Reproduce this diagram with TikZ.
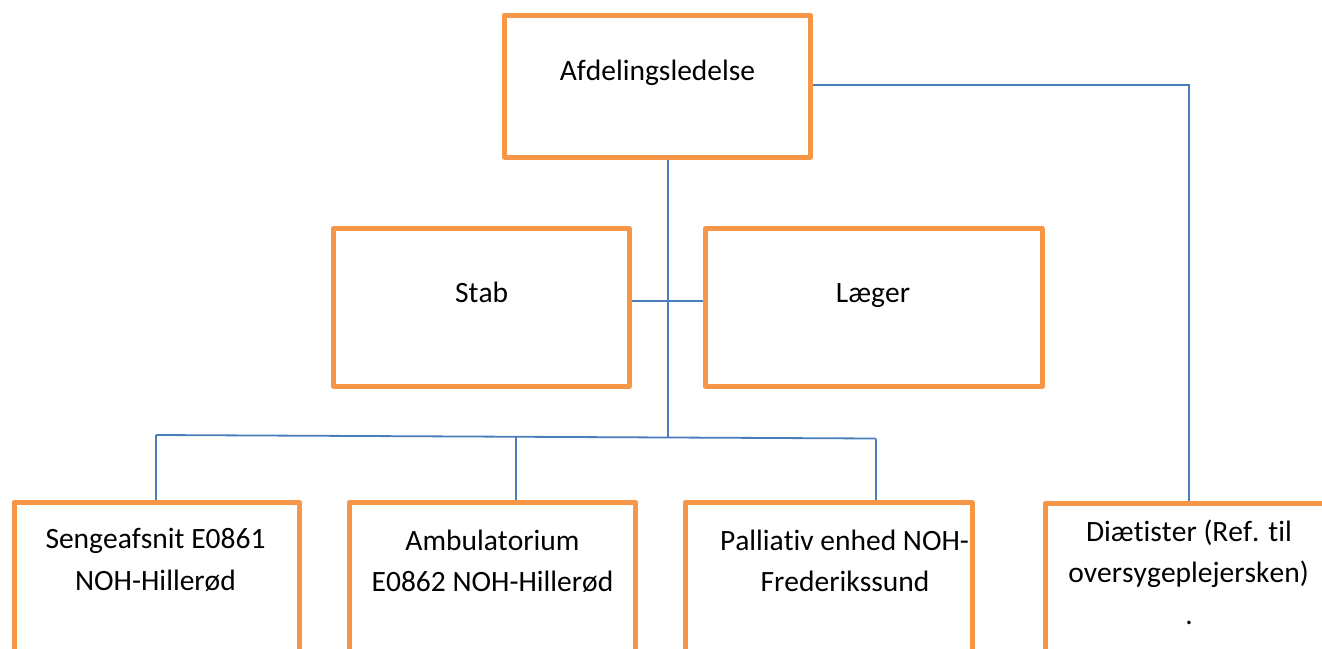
\documentclass[tikz,border=0pt]{standalone}
\usepackage{fontspec}
\setmainfont{Carlito}[Kerning=Off, RawFeature={-liga;-clig;-calt;-dlig;-rlig}]
\definecolor{boxorange}{HTML}{F79646}
\definecolor{lineblue}{HTML}{4A7EBB}
\begin{document}
\begin{tikzpicture}[x=1pt,y=-1pt,
  orgbox/.style={draw=boxorange, line width=5pt, line join=round, rectangle, inner sep=0pt, fill=white},
  conn/.style={draw=lineblue, line width=1.8pt},
  lbl/.style={anchor=base, inner sep=0pt, font=\fontsize{29.5}{41}\selectfont, text=black}]
\useasboundingbox (0,0) rectangle (1322,648);
\clip (0,0) rectangle (1322,648);
% boxes (centre-line dimensions)
\node[orgbox, minimum width=306pt, minimum height=142pt] (A) at (657.5,86) {};
\node[orgbox, minimum width=296pt, minimum height=157.5pt] (Stab) at (481.5,307.25) {};
\node[orgbox, minimum width=336.5pt, minimum height=157.5pt] (Laeger) at (873.75,307.25) {};
\node[orgbox, minimum width=285.5pt, minimum height=200pt] (Seng) at (156.75,602.5) {};
\node[orgbox, minimum width=286.5pt, minimum height=200pt] (Amb) at (492.25,602.5) {};
\node[orgbox, minimum width=287pt, minimum height=200pt] (Pal) at (828.5,602.5) {};
\node[orgbox, minimum width=354.5pt, minimum height=200pt] (Diaet) at (1222.75,603) {};
% texts
\node[lbl] (tA) at (657.5,80) {Afdelingsledelse};
\node[lbl] (tStab) at (481.7,302) {Stab};
\node[lbl] (tLaeger) at (873,302) {Læger};
\node[lbl] (tSeng1) at (155.5,548.3) {Sengeafsnit E0861};
\node[lbl] (tSeng2) at (155.5,590.5) {NOH-Hillerød};
\node[lbl] (tAmb1) at (492.5,550) {Ambulatorium};
\node[lbl] (tAmb2) at (492.5,591.5) {E0862 NOH-Hillerød};
\node[lbl] (tPal1) at (844.5,550) {Palliativ enhed NOH-};
\node[lbl] (tPal2) at (845,591) {Frederikssund};
\node[lbl] (tDia1) at (1189,541.7) {Diætister (Ref. til};
\node[lbl] (tDia2) at (1188.5,582) {oversygeplejersken)};
\node[lbl] (tDia3) at (1189,624) {.};
% connector points
\coordinate (bus) at (668,436.8);
\coordinate (sl) at (668,300.7);
\coordinate (busL) at (156,435);
\coordinate (busM) at (516,435.8);
\coordinate (busR) at (876,438.5);
\coordinate (dc) at (1189,85);
% connectors
\draw[conn] (A.south -| bus) -- (bus);
\draw[conn] (Stab.east |- sl) -- (Laeger.west |- sl);
\draw[conn] (busL) -- (busR);
\draw[conn] (busL) -- (busL |- Seng.north);
\draw[conn] (busM) -- (busM |- Amb.north);
\draw[conn] (busR) -- (busR |- Pal.north);
\draw[conn] (A.east |- dc) -- (dc) -- (dc |- Diaet.north);
\end{tikzpicture}
\end{document}
